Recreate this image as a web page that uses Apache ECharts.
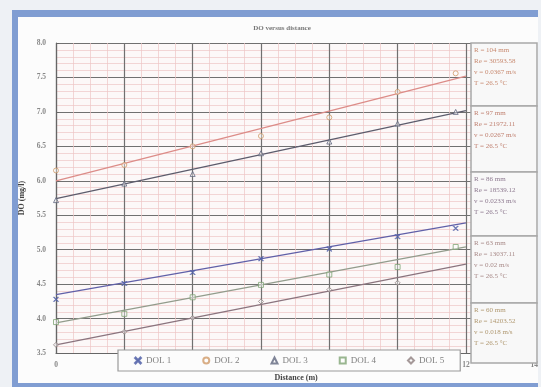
<!DOCTYPE html>
<html>
<head>
<meta charset="utf-8">
<script src="https://cdn.jsdelivr.net/npm/echarts@6/dist/echarts.min.js"></script>
<style>
  html, body { margin: 0; padding: 0; background: #eef1f5; }
  #chart { width: 541px; height: 387px; }
</style>
</head>
<body>
<div id="chart"></div>
<script>
const distances = [0, 2, 4, 6, 8, 10, 11.7];
const dol1 = [4.28, 4.51, 4.67, 4.87, 5.01, 5.19, 5.31];
const dol2 = [6.15, 6.23, 6.5, 6.65, 6.92, 7.29, 7.56];
const dol3 = [5.72, 5.96, 6.1, 6.4, 6.57, 6.83, 7.0];
const dol4 = [3.95, 4.07, 4.31, 4.49, 4.64, 4.75, 5.04];
const dol5 = [3.62, 3.81, 4.01, 4.25, 4.42, 4.52, null];

// linear trend lines, start and end values
const trendX = [0, 12];
const trend1 = [4.35, 5.39];
const trend2 = [6.0, 7.52];
const trend3 = [5.74, 7.02];
const trend4 = [3.94, 5.04];
const trend5 = [3.62, 4.79];

const names = ['DOL 1', 'DOL 2', 'DOL 3', 'DOL 4', 'DOL 5'];

// text in the boxes on the right
const boxTexts = [
  ['R = 104 mm', 'Re = 30593.58', 'v = 0.0367 m/s', 'T = 26.5 °C'],
  ['R = 97 mm', 'Re = 21972.11', 'v = 0.0267 m/s', 'T = 26.5 °C'],
  ['R = 86 mm', 'Re = 18539.12', 'v = 0.0233 m/s', 'T = 26.5 °C'],
  ['R = 63 mm', 'Re = 13037.11', 'v = 0.02 m/s', 'T = 26.5 °C'],
  ['R = 60 mm', 'Re = 14203.52', 'v = 0.018 m/s', 'T = 26.5 °C']
];

const pts = arr => distances.map((d, i) => [d, arr[i]]);
const line = arr => trendX.map((d, i) => [d, arr[i]]);

const FONT = 'Liberation Serif';
const cross = 'path://M0,1L1,0L5,4L9,0L10,1L6,5L10,9L9,10L5,6L1,10L0,9L4,5Z';

const chart = echarts.init(document.getElementById('chart'));

const markerSeries = (name, data, symbol, color, filled) => ({
  name: name,
  type: 'scatter',
  data: pts(data),
  symbol: symbol,
  symbolSize: 5,
  z: 5,
  itemStyle: filled
    ? { color: color, borderColor: color, borderWidth: 0.8 }
    : { color: 'rgba(255,255,255,0.5)', borderColor: color, borderWidth: 1 }
});

const trendSeries = (data, color) => ({
  type: 'line',
  data: line(data),
  symbol: 'none',
  silent: true,
  z: 4,
  lineStyle: { color: color, width: 1.3 }
});

// box graphics
const boxTops = [43, 106, 172, 236, 303];
const boxBottoms = [106, 172, 236, 303, 363];
const boxColors = ['#c88a70', '#c08070', '#8e7a90', '#a88a88', '#b09870'];
const graphics = [
  // blue frame
  { type: 'rect', shape: { x: 12, y: 10, width: 526, height: 7 }, style: { fill: '#809dd2' }, z: 1 },
  { type: 'rect', shape: { x: 12, y: 10, width: 6, height: 377 }, style: { fill: '#809dd2' }, z: 1 },
  { type: 'rect', shape: { x: 12, y: 383, width: 526, height: 4 }, style: { fill: '#809dd2' }, z: 1 },
  { type: 'rect', shape: { x: 18, y: 17, width: 520, height: 366 }, style: { fill: '#fcfcfc' }, z: -10 }
];
boxTexts.forEach((lines, i) => {
  graphics.push({
    type: 'rect',
    shape: { x: 471, y: boxTops[i], width: 66, height: boxBottoms[i] - boxTops[i] },
    style: { fill: '#f8f8f8', stroke: '#a8a8a8', lineWidth: 1.5 },
    z: 10
  });
  lines.forEach((t, j) => {
    graphics.push({
      type: 'text',
      left: 474,
      top: boxTops[i] + 4 + j * 11,
      style: { text: t, fill: boxColors[i], font: '7px "' + FONT + '"' },
      z: 11
    });
  });
});

chart.setOption({
  backgroundColor: '#eef1f5',
  animation: false,
  title: {
    text: 'DO versus distance',
    left: 277,
    top: 20,
    textAlign: 'center',
    textStyle: { fontFamily: FONT, fontSize: 7, fontWeight: 'bold', color: '#777', textDecoration: 'underline' }
  },
  grid: {
    left: 56, right: 4, top: 43, bottom: 28,
    show: true, backgroundColor: '#fcf8f8', borderWidth: 0
  },
  legend: {
    data: names,
    left: 118,
    top: 350,
    width: 312,
    itemWidth: 6,
    itemHeight: 6,
    itemGap: 31,
    padding: [6, 16],
    backgroundColor: '#fcfcfc',
    borderColor: '#9a9a9a',
    borderWidth: 1.2,
    textStyle: { fontFamily: FONT, fontSize: 9, color: '#808080' },
    z: 12
  },
  xAxis: {
    type: 'value',
    min: 0, max: 14, interval: 2,
    name: 'Distance (m)',
    nameLocation: 'middle',
    nameGap: 16,
    nameTextStyle: { fontFamily: FONT, fontSize: 8, fontWeight: 'bold', color: '#444', padding: [0, 0, 0, 2] },
    axisLine: { show: true, lineStyle: { color: '#666', width: 1.2 } },
    axisTick: { show: false },
    axisLabel: { fontFamily: FONT, fontSize: 7.5, fontWeight: 'bold', color: '#888', margin: 8 },
    splitLine: { show: true, lineStyle: { color: '#707070', width: 1.2 } },
    minorTick: { show: false, splitNumber: 4 },
    minorSplitLine: { show: true, lineStyle: { color: '#eec6c6', width: 0.7 } }
  },
  yAxis: {
    type: 'value',
    min: 3.5, max: 8.0, interval: 0.5,
    name: 'DO (mg/l)',
    nameLocation: 'middle',
    nameGap: 28,
    nameTextStyle: { fontFamily: FONT, fontSize: 8, fontWeight: 'bold', color: '#444' },
    axisLine: { show: true, lineStyle: { color: '#666', width: 1.2 } },
    axisTick: { show: true, length: 3, inside: true, lineStyle: { color: '#666' } },
    axisLabel: { fontFamily: FONT, fontSize: 7.5, fontWeight: 'bold', color: '#888', margin: 10, formatter: v => v.toFixed(1) },
    splitLine: { show: true, lineStyle: { color: '#707070', width: 1.2 } },
    minorTick: { show: false, splitNumber: 5 },
    minorSplitLine: { show: true, lineStyle: { color: '#eec6c6', width: 0.7 } }
  },
  graphic: graphics,
  series: [
    trendSeries(trend1, '#6060a8'),
    trendSeries(trend2, '#dc8c88'),
    trendSeries(trend3, '#5c5c6c'),
    trendSeries(trend4, '#929c8c'),
    trendSeries(trend5, '#8a747e'),
    markerSeries('DOL 1', dol1, cross, '#5060a8', true),
    markerSeries('DOL 2', dol2, 'circle', '#d09a68', false),
    markerSeries('DOL 3', dol3, 'triangle', '#60667e', false),
    markerSeries('DOL 4', dol4, 'rect', '#80a474', false),
    markerSeries('DOL 5', dol5, 'diamond', '#8e8080', false)
  ]
});
</script>
</body>
</html>
